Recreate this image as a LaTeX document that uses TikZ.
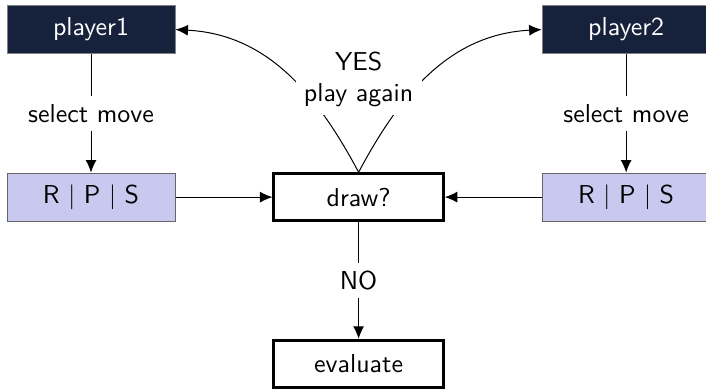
\documentclass[tikz,border=0pt]{standalone}
\usetikzlibrary{arrows.meta}
\definecolor{navy}{HTML}{16213B}
\definecolor{lavender}{HTML}{C9C9F0}

\begin{document}
\begin{tikzpicture}[font=\sffamily\fontsize{10.4}{12.5}\selectfont, >={Latex[length=5pt, width=4.4pt]},
        player/.style={draw=black!50, fill=navy, text=white, minimum width=2.37cm, minimum height=0.67cm},
        move/.style={draw=black!60, fill=lavender, minimum width=2.37cm, minimum height=0.68cm},
        check/.style={draw, very thick, fill=white, minimum width=2.39cm, minimum height=0.66cm}]
    \useasboundingbox (0, 0) rectangle (9.96, 5.49);
    \node[player] (player1) at (1.284, 5.073) {player1};
    \node[player] (player2) at (8.833, 5.073) {player2};
    \node[move] (rps1) at (1.284, 2.709) {R $|$ P $|$ S};
    \node[move] (rps2) at (8.833, 2.709) {R $|$ P $|$ S};
    \node[check] (draw) at (5.059, 2.709) {draw?};
    \node[check] (evaluate) at (5.059, 0.36) {evaluate};

    \draw[->] (player1) -- node[fill=white] {select move} (rps1);
    \draw[->] (player2) -- node[fill=white] {select move} (rps2);
    \draw[->] (rps1) -- (draw);
    \draw[->] (rps2) -- (draw);
    \draw[->] (draw) -- node[fill=white] {NO} (evaluate);

    \draw[->] (draw.north) to[out=118, in=-3] (player1.east);
    \draw[->] (draw.north) to[out=62, in=183] (player2.west);
    \node[fill=white, align=center] (again) at (5.059, 4.37) {YES\\play again};
\end{tikzpicture}
\end{document}
